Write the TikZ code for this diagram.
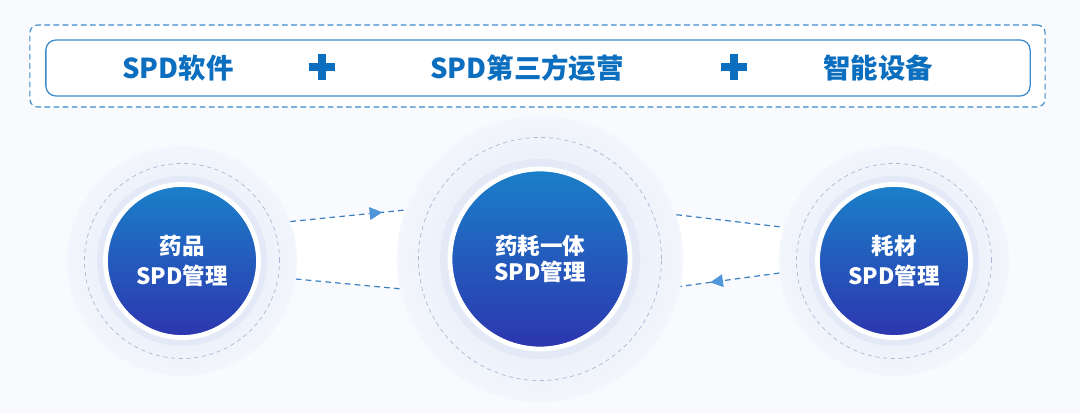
\documentclass[tikz,border=0pt]{standalone}
\usepackage{fontspec}
\newfontfamily\cjk{Noto Sans CJK SC}
\usetikzlibrary{arrows.meta, decorations.markings, backgrounds}

\definecolor{bgblue}{HTML}{F8FAFD}
\definecolor{titleblue}{HTML}{0B6EBE}
\definecolor{frameblue}{HTML}{3B8BCD}
\definecolor{linkblue}{HTML}{3A80C2}
\definecolor{tipblue}{HTML}{4F95DA}
\definecolor{balltop}{HTML}{1A80C9}
\definecolor{ballbot}{HTML}{2D35AF}
\definecolor{ringgray}{HTML}{AEB8D6}
\definecolor{haloblue}{HTML}{ECF1FA}
\definecolor{haloedge}{HTML}{F3F6FC}
\definecolor{shadeblue}{HTML}{E3E9F7}
\pgfdeclareradialshading{halofade}{\pgfpoint{0bp}{0bp}}{color(0bp)=(haloblue);
  color(17bp)=(haloblue); color(25bp)=(haloedge); color(50bp)=(haloedge)}

\begin{document}
\begin{tikzpicture}[x=0.025cm, y=-0.025cm,
  title/.style={text=titleblue, font=\cjk\bfseries\fontsize{19.5}{22}\selectfont},
  plus/.style={draw=titleblue, line width=0.18cm},
  halo/.style={circle, shading=halofade, minimum size=#1},
  shade/.style={circle, fill=shadeblue, minimum size=#1},
  dashring/.style={circle, draw=ringgray, line width=0.5pt,
    dash pattern=on 3pt off 2.5pt, minimum size=#1},
  ball/.style={circle, draw=white, line width=0.12cm, top color=balltop,
    bottom color=ballbot, minimum size=#1, text=white, align=center,
    font=\cjk\bfseries\fontsize{16}{21}\selectfont},
  link/.style={draw=linkblue, line width=0.85pt, dash pattern=on 4pt off 3pt},
  linktip/.style={link, postaction={decorate}, decoration={markings,
    mark=at position #1 with {\arrow[fill=tipblue, draw=tipblue, solid]{Triangle[length=9pt, width=9pt]}}}}]
\useasboundingbox (0,0) rectangle (1080,413);

\node[draw=frameblue, line width=0.8pt, dash pattern=on 4pt off 2.5pt,
  rounded corners=0.2cm, fill=white, minimum width=25.375cm,
  minimum height=2.05cm] (frame) at (537.5,66) {};
\node[draw=frameblue, line width=0.9pt, rounded corners=0.25cm, fill=white,
  minimum width=24.6cm, minimum height=1.4cm] (bar) at (538,68) {};
\node[title] (soft) at (178,68) {SPD软件};
\node[title] (oper) at (527,68) {SPD第三方运营};
\node[title] (equip) at (878,68) {智能设备};
\draw[plus] (309,67) -- (335,67) (322,54) -- (322,80);
\draw[plus] (721,67) -- (747,67) (734,54) -- (734,80);

\node[halo=5.75cm] (drughalo) at (182,261) {};
\node[halo=7.15cm] (mixhalo) at (540,259) {};
\node[halo=5.75cm] (mathalo) at (894,261) {};

% white bands between the loops
\begin{pgfonlayer}{background}
\fill[bgblue] (0,0) rectangle (1080,413);
\fill[white] (drughalo.20) -- (mixhalo.160) -- (mixhalo.192) -- (drughalo.-9) -- cycle;
\fill[white] (mixhalo.18) -- (mathalo.163) -- (mathalo.186) -- (mixhalo.-11) -- cycle;
\end{pgfonlayer}

\draw[linktip=0.8] (drughalo.20) -- (mixhalo.160);
\draw[link] (mixhalo.18) -- (mathalo.163);
\draw[linktip=0.7] (mathalo.186) -- (mixhalo.-11);
\draw[link] (drughalo.-9) -- (mixhalo.192);

\node[dashring=4.875cm] (drugring) at (182,261) {};
\node[dashring=6.075cm] (mixring) at (540,259) {};
\node[dashring=4.875cm] (matring) at (894,261) {};
\node[shade=4.25cm] (drugshade) at (182,261) {};
\node[shade=5.0cm] (mixshade) at (540,259) {};
\node[shade=4.25cm] (matshade) at (894,261) {};

\node[ball=3.825cm] (drug) at (182,261) {药品\\SPD管理};
\node[ball=4.5cm, font=\cjk\bfseries\fontsize{16}{18}\selectfont] (mix) at (540,259) {药耗一体\\SPD管理};
\node[ball=3.825cm] (mat) at (894,261) {耗材\\SPD管理};
\end{tikzpicture}
\end{document}
